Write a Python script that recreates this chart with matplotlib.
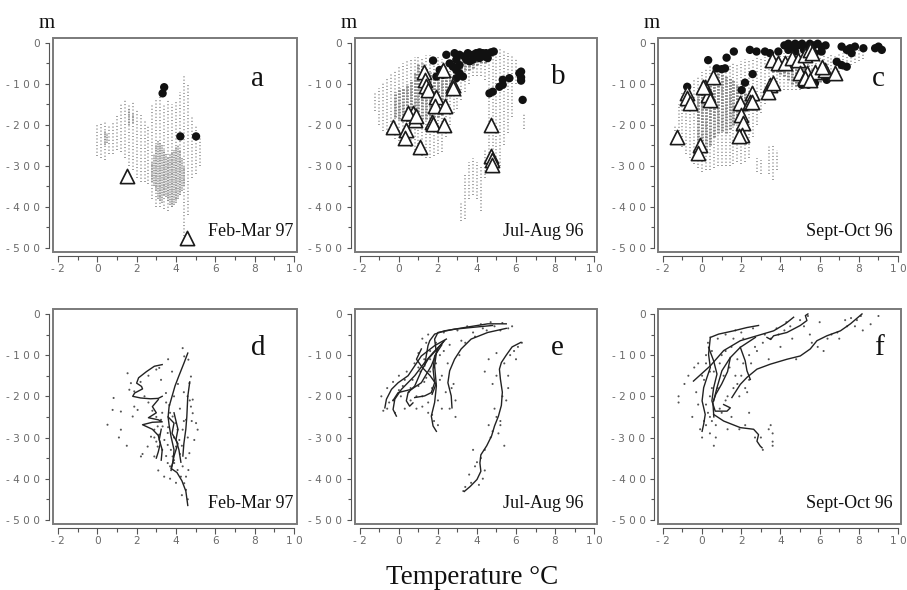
import matplotlib
matplotlib.use('Agg')
import matplotlib.pyplot as plt
from matplotlib.patches import Rectangle
from matplotlib.ticker import MultipleLocator

# ---------------- data ----------------
x_ticks = [-2, 0, 2, 4, 6, 8, 10]
y_ticks = [0, -100, -200, -300, -400, -500]
panel_letters = ['a', 'b', 'c', 'd', 'e', 'f']
season_labels = ['Feb-Mar 97', 'Jul-Aug 96', 'Sept-Oct 96']
x_title = 'Temperature °C'
y_unit = 'm'

# Panel a: light (sparse) and dense gray point clouds as vertical point columns
a_halo_T = [0.0, 0.2, 0.4, 0.6, 0.8, 1.0, 1.2, 1.4, 1.6, 1.8, 2.0, 2.2, 2.4, 2.6, 2.8, 3.0, 3.2, 3.4,
            3.6, 3.8, 4.0, 4.2, 4.4, 4.6, 4.8, 5.0, 5.2]
a_halo_top = [-200, -195, -190, -200, -190, -175, -150, -140, -150, -145, -160, -175, -190, -200, -150,
              -140, -130, -150, -140, -150, -140, -120, -80, -100, -180, -200, -230]
a_halo_bot = [-275, -280, -285, -270, -270, -260, -265, -280, -300, -310, -330, -340, -340, -345, -380,
              -400, -400, -405, -410, -400, -380, -370, -470, -420, -330, -320, -300]
a_core_T = [0.4, 0.5, 1.6, 1.8, 2.8, 2.9, 3.0, 3.1, 3.2, 3.3, 3.4, 3.5, 3.6, 3.7, 3.8, 3.9, 4.0, 4.1,
            4.2, 4.3, 4.4]
a_core_top = [-215, -220, -160, -170, -290, -270, -250, -240, -245, -250, -260, -270, -280, -270, -265,
              -260, -255, -250, -260, -280, -300]
a_core_bot = [-250, -245, -200, -195, -340, -350, -360, -380, -385, -390, -370, -375, -385, -395, -400,
              -395, -390, -380, -370, -360, -350]
a_circ_T = [3.40, 3.32, 4.22, 5.02]
a_circ_d = [-108, -123, -228, -228]
a_tri_T = [1.51, 4.54]
a_tri_d = [-324, -476]

# Panel b
b_halo_T = [-1.2, -1.0, -0.8, -0.6, -0.4, -0.2, 0.0, 0.2, 0.4, 0.6, 0.8, 1.0, 1.2, 1.4, 1.6, 1.8, 2.0,
            2.2, 2.4, 2.6, 2.8, 3.0, 3.2, 3.4, 3.6, 3.8, 4.0, 4.2, 4.4, 4.6, 4.8, 5.0, 5.2, 5.4, 5.6,
            5.8, 6.0, 3.2, 3.4, 3.6, 3.8, 4.0, 4.2, 4.4, 4.6, 6.4]
b_halo_top = [-120, -110, -95, -85, -75, -65, -55, -50, -45, -40, -35, -35, -35, -30, -30, -35, -35,
              -40, -45, -55, -60, -40, -30, -25, -25, -25, -25, -20, -20, -20, -20, -20, -15, -20, -25,
              -30, -40, -390, -320, -290, -280, -290, -300, -260, -220, -170]
b_halo_bot = [-165, -200, -215, -220, -225, -235, -240, -245, -250, -255, -260, -270, -275, -280, -280,
              -275, -270, -265, -230, -200, -170, -160, -140, -120, -100, -80, -80, -80, -90, -200,
              -300, -310, -300, -250, -220, -180, -100, -435, -430, -380, -370, -380, -410, -330, -300,
              -210]
b_core_T = [-0.2, 0.0, 0.2, 0.4, 0.6, 0.8, 1.0, 1.2, 1.4, 1.6, 1.8, 2.0, 2.2, 2.4, 2.6, 2.8, 3.0, 3.2,
            3.4, 3.6, 3.8, 4.0, 4.2, 4.4]
b_core_top = [-120, -110, -110, -100, -90, -70, -50, -50, -60, -70, -75, -80, -85, -80, -75, -60, -50,
              -50, -45, -45, -45, -40, -40, -40]
b_core_bot = [-180, -185, -190, -190, -195, -190, -190, -185, -185, -185, -180, -180, -175, -160, -130,
              -80, -70, -70, -65, -65, -60, -55, -50, -50]
b_circ_T = [1.75, 2.43, 2.85, 3.11, 3.36, 3.53, 3.79, 3.96, 4.13, 4.30, 4.47, 4.72, 4.86, 3.45, 3.62,
            2.60, 2.77, 2.94, 3.11, 3.28, 2.94, 2.09, 2.26, 1.92, 2.94, 3.11, 3.79, 4.13, 4.38, 4.55,
            4.64, 4.81, 5.15, 5.32, 5.66, 6.17, 6.26, 6.26, 6.26, 6.34, 5.32]
b_circ_d = [-43, -29, -25, -29, -33, -25, -29, -25, -23, -25, -25, -23, -21, -41, -45, -50, -58, -66,
            -74, -82, -86, -66, -78, -82, -41, -54, -41, -37, -33, -37, -123, -119, -107, -90, -86,
            -74, -70, -84, -92, -139, -102]
b_tri_T = [1.27, 2.26, 1.35, 1.40, 1.50, 2.77, 2.75, 1.92, 1.83, 2.34, 0.72, 0.81, 0.47, 0.89, -0.28,
           0.38, 0.30, 1.06, 1.71, 1.75, 2.29, 4.72, 4.74, 4.76, 4.78]
b_tri_d = [-70, -67, -90, -106, -116, -102, -110, -133, -155, -155, -171, -188, -171, -178, -206,
           -212, -232, -253, -194, -198, -200, -200, -277, -285, -297]

# Panel c
c_halo_T = [-1.4, -1.2, -1.0, -0.8, -0.6, -0.4, -0.2, 0.0, 0.2, 0.4, 0.6, 0.8, 1.0, 1.2, 1.4, 1.6,
            1.8, 2.0, 2.2, 2.4, 2.6, 2.8, 3.0, 3.2, 3.4, 3.6, 3.8, 4.0, 4.2, 4.4, 4.6, 4.8, 5.0, 5.2,
            5.4, 5.6, 5.8, 6.0, 6.2, 6.4, 6.6, 6.8, 7.0, 7.2, 7.4, 7.6, 7.8, 8.0, 8.2,
            2.8, 3.0, 3.4, 3.6, 3.8]
c_halo_top = [-200, -150, -120, -100, -100, -90, -80, -70, -60, -55, -60, -70, -65, -60, -55, -50,
              -50, -45, -40, -40, -40, -35, -35, -35, -35, -30, -30, -30, -25, -25, -20, -20, -20,
              -20, -20, -20, -25, -25, -30, -30, -30, -30, -25, -25, -20, -20, -20, -15, -15,
              -280, -285, -250, -250, -260]
c_halo_bot = [-215, -240, -255, -270, -280, -295, -305, -315, -310, -310, -305, -300, -300, -300,
              -300, -295, -290, -295, -290, -280, -230, -200, -170, -150, -140, -130, -120, -115,
              -115, -115, -115, -115, -115, -110, -110, -105, -100, -95, -90, -85, -80, -75, -70,
              -65, -60, -55, -50, -45, -40,
              -315, -320, -320, -335, -310]
c_core_T = [-0.2, 0.0, 0.2, 0.4, 0.6, 0.8, 1.0, 1.2, 1.4, 1.6, 1.8, 2.0, 2.2, 3.6, 3.8, 4.0, 4.2, 4.4,
            4.6, 4.8, 5.0, 5.2, 5.4, 5.6, 5.8, 6.0, 6.2]
c_core_top = [-130, -120, -120, -80, -70, -70, -75, -80, -85, -90, -100, -110, -120, -50, -45, -45,
              -40, -40, -40, -45, -50, -55, -55, -60, -60, -60, -60]
c_core_bot = [-245, -260, -260, -250, -230, -220, -215, -220, -210, -200, -190, -160, -150, -70, -70,
              -75, -80, -90, -100, -105, -105, -110, -110, -105, -100, -95, -85]
c_circ_T = [0.31, 1.25, 1.62, 2.44, 2.78, 3.21, 3.46, 3.89, 0.74, 1.00, 1.17, 2.58, 2.19, 2.02, -0.76,
            4.2, 4.4, 4.6, 4.75, 4.9, 5.1, 5.3, 5.5, 5.7, 5.9, 6.1, 6.3, 4.4, 4.75, 5.2, 5.75, 6.1,
            7.12, 7.38, 7.55, 7.63, 7.8, 8.23, 8.83, 9.0, 9.17, 6.87, 7.12, 7.38, 6.36, 5.08, 5.42,
            5.76]
c_circ_d = [-42, -36, -21, -17, -21, -21, -25, -21, -62, -64, -62, -76, -97, -115, -107,
            -6, -2, -10, -2, -6, -2, -10, -2, -6, -2, -10, -6, -17, -21, -17, -25, -21,
            -9, -17, -13, -25, -9, -13, -13, -9, -17, -46, -54, -58, -90, -102, -102, -98]
c_tri_T = [-1.27, -0.76, -0.79, -0.62, 0.14, 0.31, 0.40, 0.57, 1.93, 1.98, 2.10, 2.02, 1.90, 2.53,
           2.44, 3.46, 3.38, 3.63, 3.55, 3.89, 4.23, 4.57, 4.91, 5.25, 5.51, 5.59, 4.99, 5.34, 5.76,
           6.27, 6.78, 6.10, 5.25, 5.51, -0.11, -0.23, 2.53, 0.06]
c_tri_d = [-230, -123, -135, -147, -107, -127, -139, -82, -147, -176, -196, -224, -228, -123, -143,
           -102, -119, -98, -42, -50, -50, -37, -42, -29, -17, -25, -74, -74, -70, -66, -74, -58,
           -86, -90, -249, -269, -143, -107]

# Panel d: individual profiles and raw points
d_prof_T = [[3.3, 2.9, 2.5, 2.1, 2.0, 2.25, 2.3, 1.9, 1.8, 2.2, 2.7, 3.1, 3.3],
            [3.1, 2.8, 3.0, 2.6, 3.1, 3.3, 2.8, 2.3, 2.8, 3.1, 3.2, 3.1, 3.0],
            [4.6, 4.4, 4.15, 3.95, 3.8, 3.65, 3.6, 3.65, 3.75, 3.9, 3.85, 3.75, 4.05, 4.3, 4.5, 4.6],
            [4.7, 4.6, 4.55, 4.5, 4.4, 4.35],
            [3.9, 4.1, 4.0, 4.15, 4.25],
            [3.25, 3.15, 3.3, 3.25],
            [3.6, 3.9, 3.8, 4.1, 3.9, 3.75]]
d_prof_d = [[-123, -127, -140, -155, -168, -176, -182, -192, -200, -204, -206, -205, -200],
            [-208, -225, -240, -252, -257, -262, -263, -269, -280, -295, -315, -335, -350],
            [-95, -120, -150, -175, -200, -225, -250, -270, -298, -330, -360, -375, -385, -405, -430, -465],
            [-165, -200, -250, -280, -315, -345],
            [-240, -280, -305, -330, -360],
            [-280, -305, -330, -355],
            [-250, -265, -290, -315, -345, -380]]
d_pts_T = [0.83, 0.52, 0.78, 1.20, 1.20, 1.54, 1.63, 1.71, 1.88, 1.88, 2.05, 1.80, 2.22, 2.56, 2.73,
           2.90, 3.07, 3.24, 3.15, 3.41, 3.58, 3.74, 3.83, 3.91, 4.08, 4.25, 4.42, 4.51, 4.59, 4.68,
           4.76, 4.34, 4.42, 4.63, 4.85, 5.02, 5.10, 4.93, 4.68, 4.63, 3.24, 3.15, 3.49, 3.66, 3.83,
           4.00, 4.08, 3.58, 3.32, 3.07, 2.90, 3.58, 4.34, 4.51, 4.00, 4.17, 4.34, 4.51, 4.76, 4.85,
           3.5, 3.7, 3.9, 4.2, 4.4, 4.6, 4.3, 3.9, 3.6, 3.3, 3.0, 2.8, 2.6, 2.4, 2.2, 2.6, 3.0, 3.6,
           3.8, 4.1, 4.4, 4.7, 4.8, 4.5, 4.2, 3.9, 3.7, 3.5, 3.3, 3.0, 2.9, 3.1, 3.4, 3.7, 4.0, 4.3,
           4.6, 1.5, 2.3, 1.1]
d_pts_d = [-204, -269, -233, -237, -281, -144, -184, -168, -188, -225, -233, -249, -346, -322, -298,
           -281, -273, -257, -293, -306, -318, -330, -346, -362, -379, -395, -411, -427, -200, -168,
           -152, -83, -103, -111, -241, -265, -281, -306, -338, -379, -160, -131, -192, -221, -249,
           -265, -281, -289, -273, -322, -346, -362, -370, -395, -322, -306, -281, -257, -225, -208,
           -215, -240, -200, -230, -260, -300, -320, -300, -275, -240, -250, -235, -215, -200, -165,
           -150, -135, -110, -140, -170, -190, -210, -260, -350, -340, -355, -370, -345, -330, -310,
           -300, -380, -395, -400, -410, -440, -450, -320, -340, -300]

# Panel e
e_prof_T = [[6.25, 5.8, 5.5, 5.25, 5.15, 5.2, 5.3, 5.25, 5.1, 4.9, 4.75, 4.5, 4.2, 4.15, 4.2, 4.0, 3.65, 3.35],
            [5.5, 4.55, 3.36, 2.34, 1.83, 1.58, 1.49, 1.40, 1.32],
            [5.5, 4.55, 3.7, 3.19, 2.85, 2.6, 2.51, 2.68, 2.72],
            [4.8, 3.9, 2.85, 2.0, 1.83, 1.92, 1.83, 1.92, 1.83, 1.66, 1.75, 1.92],
            [2.43, 1.83, 1.15, 0.81, 0.47, -0.04, -0.38, -0.64, -0.72],
            [2.34, 1.75, 1.32, 0.81, 0.13, -0.21, -0.30, -0.13],
            [2.26, 1.49, 1.15, 0.81, 0.47, 0.38, 0.55, 0.72],
            [2.0, 1.66, 1.15, 0.64, -0.04, -0.3],
            [2.2, 1.83, 1.75, 1.83, 1.66, 1.32, 0.81],
            [1.15, 0.9, 1.2, 1.6, 1.9, 1.7]]
e_prof_d = [[-69, -80, -100, -118, -134, -158, -190, -222, -248, -272, -296, -320, -342, -362, -382, -402, -419, -431],
            [-24, -24, -33, -41, -49, -65, -77, -102, -126],
            [-35, -45, -61, -85, -110, -138, -167, -199, -228],
            [-28, -32, -37, -45, -61, -94, -126, -175, -215, -248, -272, -285],
            [-61, -77, -102, -126, -150, -167, -183, -207, -228],
            [-65, -94, -118, -150, -183, -207, -232, -248],
            [-69, -110, -138, -175, -191, -211, -224, -216],
            [-85, -126, -167, -183, -191, -210],
            [-75, -102, -134, -167, -191, -199, -203],
            [-85, -110, -130, -150, -170, -195]]
e_pts_T = [-0.9, -0.8, -0.6, -0.5, -0.3, -0.2, 0.0, 0.1, 0.2, 0.3, 0.4, 0.5, 0.6, 0.7, 0.8, 0.9, 1.0,
           1.0, 1.1, 1.2, 1.2, 1.3, 1.4, 1.5, 1.5, 1.6, 1.7, 1.8, 1.8, 1.9, 2.0, 2.1, 2.2, 2.3, 2.4,
           2.5, 2.6, 2.8, 2.9, 3.0, 3.2, 3.5, 3.8, 4.2, 4.5, 4.9, 5.3, 5.6, 5.8, 4.4, 4.6, 4.8, 5.0,
           5.4, 5.6, 5.9, 6.3, 4.9, 5.2, 4.6, 5.4, 4.7, 4.2, 3.8, 3.6, 4.3, 3.3, 3.9, 4.1, 5.1, 5.3,
           5.6, 6.0,
           1.0, 1.3, 1.6, 1.9, 2.1, 2.3, 2.6, 0.3, 0.0, -0.3, -0.6, 0.6, 0.9, 1.2, 1.5, 1.7, 2.0,
           2.2, 2.7, 2.9, 3.1, 3.4, 3.9, 4.3, 4.7, 5.2, 5.0, 5.5, 5.0, 4.8, 4.4, 4.0, 3.7, 3.4, 4.4,
           5.2, 5.7, 6.1, 1.4, 1.6]
e_pts_d = [-200, -235, -180, -215, -165, -240, -150, -200, -175, -230, -140, -190, -210, -160, -120,
           -230, -95, -175, -140, -60, -200, -110, -155, -50, -240, -90, -180, -130, -260, -70, -210,
           -100, -150, -45, -190, -120, -230, -170, -210, -40, -65, -30, -45, -25, -40, -30, -22, -35,
           -30, -140, -110, -170, -95, -120, -180, -90, -70, -230, -260, -270, -320, -300, -350, -330,
           -390, -400, -430, -370, -415, -290, -200, -150, -110,
           -130, -165, -140, -120, -160, -90, -75, -160, -185, -210, -230, -180, -200, -225, -215,
           -245, -270, -230, -180, -250, -100, -70, -55, -35, -20, -40, -150, -210, -250, -285, -330,
           -360, -410, -420, -380, -270, -100, -80, -70, -110]

# Panel f
f_prof_T = [[1.52, 1.95, 2.29, 2.80, 3.48, 4.33, 5.01, 5.52, 5.86, 6.37, 7.06, 7.57, 8.16],
            [-0.44, 0.42, 1.10, 1.95, 2.80, 3.65, 4.25, 4.67],
            [0.42, 0.84, 1.61, 2.29, 2.88],
            [3.31, 3.5, 3.65, 4.33, 5.01, 5.35, 5.27, 5.4],
            [0.42, 0.33, 0.42, 0.25, 0.08, 0.0, 0.16, 0.08, 0.0],
            [0.33, 0.59, 0.76, 0.59, 0.5, 0.67, 1.27, 1.44, 1.10],
            [0.59, 1.1, 1.95, 2.63, 2.88, 2.80, 2.97, 3.06],
            [2.72, 1.95, 1.44, 1.01, 0.76, 0.59],
            [1.95, 2.20, 2.29, 2.46],
            [1.44, 1.3, 1.0, 0.7, 0.55, 0.6]]
f_prof_d = [[-203, -171, -154, -134, -122, -110, -102, -85, -65, -53, -41, -24, 0],
            [-163, -126, -89, -65, -53, -41, -24, -8],
            [-57, -49, -41, -33, -28],
            [-57, -62, -53, -45, -28, -16, -4, 0],
            [-57, -98, -130, -154, -179, -211, -244, -268, -285],
            [-81, -114, -146, -179, -211, -236, -236, -228, -220],
            [-244, -260, -276, -280, -293, -309, -321, -325],
            [-57, -81, -106, -138, -179, -211],
            [-81, -114, -138, -159],
            [-106, -140, -170, -195, -215, -250]]
f_pts_T = [-1.2, -1.2, -0.9, -0.7, -0.5, -0.4, -0.3, -0.2, -0.1, 0.0, 0.1, 0.2, 0.3, 0.3, 0.4, 0.5,
           0.5, 0.6, 0.7, 0.8, 0.8, 0.9, 1.0, 1.1, 1.2, 1.2, 1.4, 1.5, 1.5, 1.6, 1.7, 1.8, 1.9, 2.0,
           2.1, 2.2, 2.3, 2.5, 2.6, 2.8, 3.0, 3.2, 3.4, 3.5, 3.6, 3.6, 3.8, 4.0, 4.3, 4.6, 4.8, 5.2,
           5.4, 5.6, 6.0, 6.2, 6.6, 7.0, 7.3, 7.6, 7.8, 8.2, 8.6, 9.0, 2.4, 1.3, 0.6, 0.2, 3.4,
           0.2, 0.4, 0.5, 0.2, 0.4, 0.7, 1.0, 1.3, 1.7, 2.1, 2.4, 2.7, 3.1, 3.5, 3.9, 4.2, 4.5, 5.0,
           5.5, 5.9, 6.4, 6.9, 7.4, 7.9, 8.1, 1.8, 2.2, 2.4, 0.9, 1.2, 1.6, 2.0, 0.0, -0.2, 0.1, 1.9,
           2.7, 3.1, 3.6, 0.4]
f_pts_d = [-200, -215, -170, -150, -250, -130, -190, -220, -280, -300, -160, -120, -240, -70, -200,
           -90, -260, -140, -300, -60, -180, -230, -100, -150, -50, -210, -130, -80, -250, -180, -40,
           -110, -200, -150, -60, -270, -190, -120, -35, -90, -300, -50, -110, -270, -320, -290, -35,
           -80, -20, -60, -110, -30, -5, -70, -20, -90, -50, -60, -15, -10, -30, -40, -25, -5, -240,
           -280, -320, -270, -280,
           -100, -140, -180, -220, -250, -270, -240, -200, -150, -120, -100, -80, -70, -60, -50, -40,
           -30, -15, -50, -80, -60, -45, -30, -15, -5, -170, -180, -160, -120, -90, -60, -45, -150,
           -120, -260, -280, -300, -330, -310, -290]

# ---------------- drawing ----------------
W, H = 907, 590
fig = plt.figure(figsize=(W / 100, H / 100), dpi=100)

col_px = [(53, 244), (355, 242), (658, 243)]
row_px = [(38, 252), (309, 524)]
letter_pos = [(0.84, 0.81), (0.84, 0.82), (0.905, 0.81), (0.84, 0.82), (0.835, 0.82), (0.91, 0.82)]
season_x = [0.985, 0.945, 0.965]

serif = 'Liberation Serif'


def spaced(v):
    return ' '.join(str(v))


def make_ax(col, row):
    left, w = col_px[col]
    top, bot = row_px[row]
    ax = fig.add_axes([left / W, 1 - bot / H, w / W, (bot - top) / H])
    ax.set_xlim(-2.25, 10.15)
    ax.set_ylim(-510, 12)
    for s in ['top', 'right']:
        ax.spines[s].set_visible(False)
    for s in ['left', 'bottom']:
        ax.spines[s].set_position(('outward', 3))
        ax.spines[s].set_color('#555555')
        ax.spines[s].set_linewidth(0.8)
    ax.spines['left'].set_bounds(-500, 0)
    ax.spines['bottom'].set_bounds(-2, 10)
    ax.set_xticks(x_ticks, labels=[spaced(v) for v in x_ticks])
    ax.set_yticks(y_ticks, labels=[spaced(v) for v in y_ticks])
    ax.xaxis.set_minor_locator(MultipleLocator(1))
    ax.yaxis.set_minor_locator(MultipleLocator(50))
    ax.tick_params(axis='both', which='both', direction='out', colors='#555555',
                   labelcolor='#6a6a6a', labelsize=7.6, width=0.8)
    ax.tick_params(axis='x', which='major', length=4, pad=2)
    ax.tick_params(axis='x', which='minor', length=3)
    ax.tick_params(axis='y', which='major', length=3, pad=3)
    ax.tick_params(axis='y', which='minor', length=2.5)
    ax.add_patch(Rectangle((0, 0), 1, 1, transform=ax.transAxes, fill=False,
                           ec='#7a7a7a', lw=1.4, clip_on=False, zorder=6))
    return ax


def draw_cloud(ax, hT, htop, hbot, cT, ctop, cbot, core_lw):
    ax.vlines(hT, hbot, htop, colors='#9c9c9c', linewidth=1.4,
              linestyles=[(0, (0.5, 1.2))], zorder=1)
    ax.vlines(cT, cbot, ctop, colors='#828282', linewidth=core_lw,
              linestyles=[(0, (0.6, 0.5))], zorder=2)


def draw_marks(ax, cT, cd, tT, td):
    ax.scatter(cT, cd, s=36, marker='o', c='#111111', edgecolors='none', zorder=3)
    ax.scatter(tT, td, s=105, marker='^', facecolors='white', edgecolors='#1a1a1a',
               linewidths=1.2, zorder=4)


def draw_profiles(ax, profT, profd, pT, pd):
    ax.scatter(pT, pd, s=2.2, c='#555555', edgecolors='none', zorder=2)
    for T, d in zip(profT, profd):
        ax.plot(T, d, color='#222222', lw=1.0, zorder=3)


top_data = [
    (a_halo_T, a_halo_top, a_halo_bot, a_core_T, a_core_top, a_core_bot, 1.1,
     a_circ_T, a_circ_d, a_tri_T, a_tri_d),
    (b_halo_T, b_halo_top, b_halo_bot, b_core_T, b_core_top, b_core_bot, 2.0,
     b_circ_T, b_circ_d, b_tri_T, b_tri_d),
    (c_halo_T, c_halo_top, c_halo_bot, c_core_T, c_core_top, c_core_bot, 2.0,
     c_circ_T, c_circ_d, c_tri_T, c_tri_d),
]
bottom_data = [
    (d_prof_T, d_prof_d, d_pts_T, d_pts_d),
    (e_prof_T, e_prof_d, e_pts_T, e_pts_d),
    (f_prof_T, f_prof_d, f_pts_T, f_pts_d),
]

for i in range(3):
    ax = make_ax(i, 0)
    hT, ht, hb, cT, ct, cb, clw, ciT, cid, trT, trd = top_data[i]
    draw_cloud(ax, hT, ht, hb, cT, ct, cb, clw)
    draw_marks(ax, ciT, cid, trT, trd)
    ax.text(letter_pos[i][0], letter_pos[i][1], panel_letters[i], transform=ax.transAxes,
            ha='center', va='center', fontsize=21, family=serif, color='#111111')
    ax.text(season_x[i], 0.095, season_labels[i], transform=ax.transAxes, ha='right',
            va='center', fontsize=13, family=serif, color='#111111')
    fig.text((col_px[i][0] - 6) / W, 1 - 23 / H, y_unit, ha='center', va='center',
             fontsize=15, family=serif, color='#111111')

for i in range(3):
    ax = make_ax(i, 1)
    pT, pdd, sT, sd = bottom_data[i]
    draw_profiles(ax, pT, pdd, sT, sd)
    ax.text(letter_pos[3 + i][0], letter_pos[3 + i][1], panel_letters[3 + i],
            transform=ax.transAxes, ha='center', va='center', fontsize=21, family=serif,
            color='#111111')
    ax.text(season_x[i], 0.095, season_labels[i], transform=ax.transAxes, ha='right',
            va='center', fontsize=13, family=serif, color='#111111')

fig.text(472 / W, 1 - 577 / H, x_title, ha='center', va='center', fontsize=19.5,
         family=serif, color='#111111')

fig.savefig('out.png', dpi=100)
